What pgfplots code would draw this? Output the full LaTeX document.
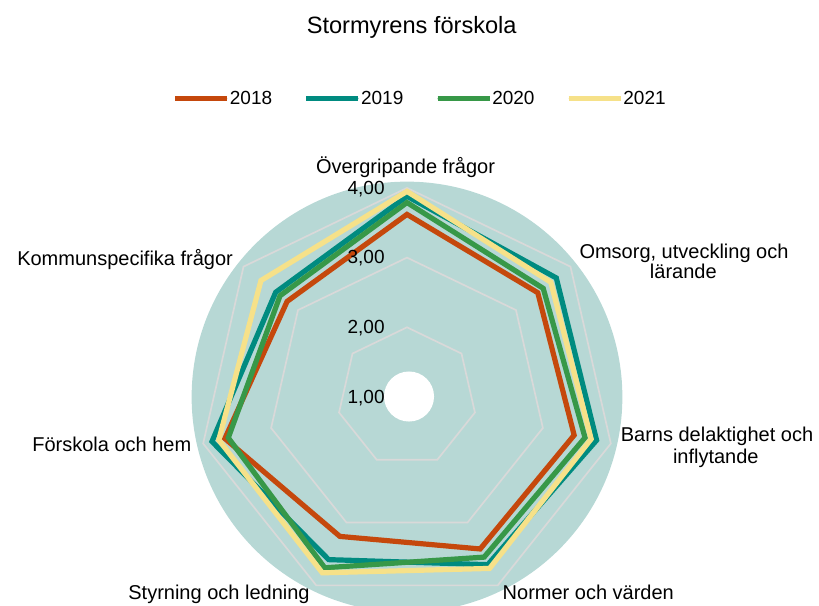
\documentclass[border=0pt]{standalone}
\usepackage{pgfplots}
\pgfplotsset{compat=1.18}
\usepackage{pgfplotstable}
\usepackage{fontspec}
\setmainfont{Liberation Sans}

\definecolor{c18}{RGB}{197,72,12}
\definecolor{c19}{RGB}{0,139,128}
\definecolor{c20}{RGB}{55,152,72}
\definecolor{c21}{RGB}{246,225,137}
\definecolor{bgc}{RGB}{183,216,213}
\definecolor{gridc}{RGB}{217,217,217}

% angle (clockwise from top) and values per year
\pgfplotstableread{
a v18 v19 v20 v21
0 3.62 3.88 3.79 3.95
51.4286 3.40 3.74 3.50 3.64
102.857 3.46 3.79 3.62 3.71
154.286 3.42 3.67 3.55 3.73
205.714 3.22 3.59 3.72 3.80
257.143 3.68 3.87 3.63 3.77
308.571 3.20 3.41 3.33 3.68
}\data

\newcommand\labfont{\fontsize{10}{12}\selectfont}
\newcommand\numfont{\fontsize{9.5}{11}\selectfont}

\begin{document}
\begin{tikzpicture}[every node/.append style={inner sep=0pt}]
\useasboundingbox (0,0) rectangle (409.5pt,302.5pt);
\begin{axis}[
  x=34.85pt, y=34.85pt,
  xmin=-5.8393, xmax=5.9110, ymin=-2.9842, ymax=5.6958,
  hide axis, clip=false,
  legend columns=4,
  legend style={draw=none, fill=none, inner sep=0pt, outer sep=0pt,
    at={(axis description cs:0.5118,0.8223)}, anchor=south,
    font=\numfont,
    nodes={inner sep=0pt, outer sep=0pt},
    cells={anchor=base west},
    /tikz/every odd column/.append style={column sep=0.05pt},
    /tikz/every even column/.append style={column sep=15.8pt}},
  legend image code/.code={
    \path (0pt,2.85pt) -- (26pt,2.85pt);
    \draw[line cap=round] (1.3pt,2.85pt) -- (24.7pt,2.85pt);
  },
]
\fill[bgc] (axis cs:0,0) circle[radius=3.09];
\fill[white] (axis cs:0.029,0.007) circle[radius=0.359];

\addplot[gridc, line width=0.85pt, forget plot] table[x expr={(2-1)*sin(\thisrow{a})}, y expr={(2-1)*cos(\thisrow{a})}] {\data} -- cycle;
\addplot[gridc, line width=0.85pt, forget plot] table[x expr={(3-1)*sin(\thisrow{a})}, y expr={(3-1)*cos(\thisrow{a})}] {\data} -- cycle;
\addplot[gridc, line width=0.85pt, forget plot] table[x expr={(4-1)*sin(\thisrow{a})}, y expr={(4-1)*cos(\thisrow{a})}] {\data} -- cycle;

\addplot[c18, line width=2.6pt, line join=miter] table[x expr={(\thisrow{v18}-1)*sin(\thisrow{a})}, y expr={(\thisrow{v18}-1)*cos(\thisrow{a})}] {\data} -- cycle;
\addlegendentry{2018}
\addplot[c19, line width=2.6pt, line join=miter] table[x expr={(\thisrow{v19}-1)*sin(\thisrow{a})}, y expr={(\thisrow{v19}-1)*cos(\thisrow{a})}] {\data} -- cycle;
\addlegendentry{2019}
\addplot[c20, line width=2.6pt, line join=miter] table[x expr={(\thisrow{v20}-1)*sin(\thisrow{a})}, y expr={(\thisrow{v20}-1)*cos(\thisrow{a})}] {\data} -- cycle;
\addlegendentry{2020}
\addplot[c21, line width=2.6pt, line join=miter] table[x expr={(\thisrow{v21}-1)*sin(\thisrow{a})}, y expr={(\thisrow{v21}-1)*cos(\thisrow{a})}] {\data} -- cycle;
\addlegendentry{2021}
\end{axis}

\node[anchor=base, font=\fontsize{11.8}{14}\selectfont] at (205.85pt,285.5pt) {Stormyrens förskola};
\node[anchor=base, font=\labfont] at (202.75pt,215.75pt) {Övergripande frågor};
\node[anchor=base, font=\labfont] at (342pt,173.35pt) {Omsorg, utveckling och};
\node[anchor=base, font=\labfont] at (341.65pt,163.35pt) {lärande};
\node[anchor=base, font=\labfont] at (358.5pt,81.65pt) {Barns delaktighet och};
\node[anchor=base, font=\labfont] at (357.9pt,70.85pt) {inflytande};
\node[anchor=base east, font=\labfont] at (95.85pt,76.65pt) {Förskola och hem};
\node[anchor=base east, font=\labfont] at (116.65pt,169.5pt) {Kommunspecifika frågor};
\node[anchor=base east, font=\labfont] at (155pt,2.5pt) {Styrning och ledning};
\node[anchor=base west, font=\labfont] at (251.15pt,2.5pt) {Normer och värden};

\node[anchor=base east, font=\numfont] at (192.5pt,205pt) {4,00};
\node[anchor=base east, font=\numfont] at (192.5pt,170.5pt) {3,00};
\node[anchor=base east, font=\numfont] at (192.5pt,135.85pt) {2,00};
\node[anchor=base east, font=\numfont] at (192.5pt,100.85pt) {1,00};
\end{tikzpicture}
\end{document}
